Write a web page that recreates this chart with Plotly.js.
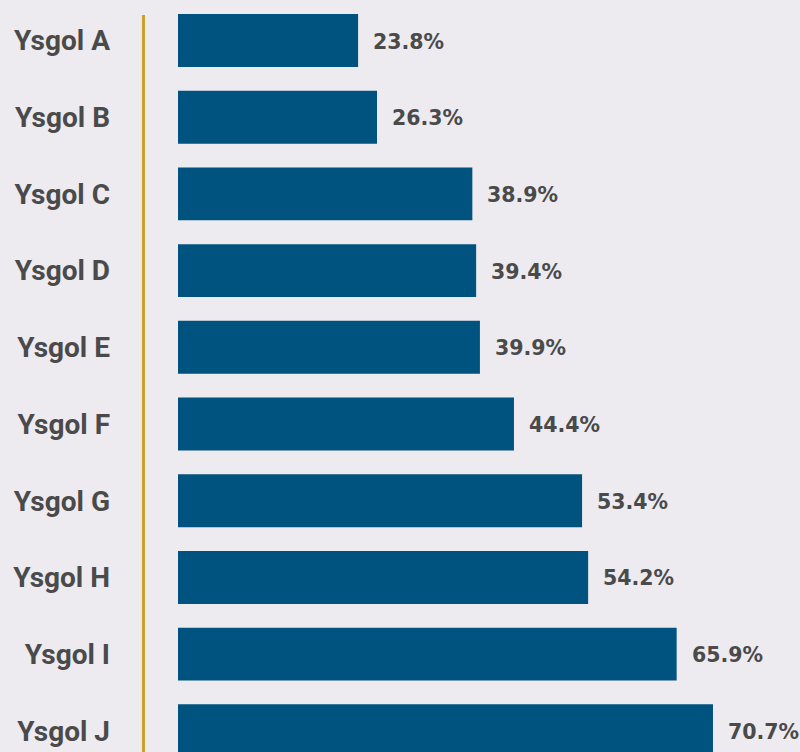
<!DOCTYPE html>
<html><head><meta charset="utf-8">
<script src="https://cdn.plot.ly/plotly-3.0.1.min.js"></script>
<style>body{margin:0;background:#EDEBF0;}#c{width:800px;height:752px;}</style>
</head><body><div id="c"></div>
<script>
const schools = ["Ysgol A","Ysgol B","Ysgol C","Ysgol D","Ysgol E","Ysgol F","Ysgol G","Ysgol H","Ysgol I","Ysgol J"];
const values = [23.8, 26.3, 38.9, 39.4, 39.9, 44.4, 53.4, 54.2, 65.9, 70.7];
const valueLabels = values.map(v => v.toFixed(1) + "%");

const trace = {
  type: "bar", orientation: "h",
  x: values, y: schools,
  marker: {color: "#00527F"},
  width: 0.69,
  hoverinfo: "none"
};
const annotations = values.map((v, i) => ({
  x: v, y: schools[i], xref: "x", yref: "y",
  text: valueLabels[i], showarrow: false,
  xanchor: "left", yanchor: "middle", xshift: 13, yshift: -1,
  font: {family: "DejaVu Sans", size: 20.5, color: "#4A4A4A", weight: "bold"}
}));
const layout = {
  width: 800, height: 752,
  margin: {l: 178, r: 0, t: 0, b: 0},
  paper_bgcolor: "#EDEBF0", plot_bgcolor: "#EDEBF0",
  showlegend: false,
  xaxis: {range: [0, 82.2], visible: false, fixedrange: true},
  yaxis: {
    type: "category", categoryorder: "array", categoryarray: schools,
    range: [9.276, -0.528], showgrid: false, zeroline: false, showline: false,
    ticks: "", ticklabelstandoff: 67,
    tickfont: {family: "Roboto", size: 28, color: "#4A4A4A", weight: "bold"}
  },
  shapes: [{type: "line", xref: "paper", yref: "paper",
    x0: -0.0555, x1: -0.0555, y0: 0, y1: 0.98,
    line: {color: "#C9A227", width: 3}}],
  annotations: annotations
};
Plotly.newPlot("c", [trace], layout, {displayModeBar: false, staticPlot: true});
</script></body></html>
